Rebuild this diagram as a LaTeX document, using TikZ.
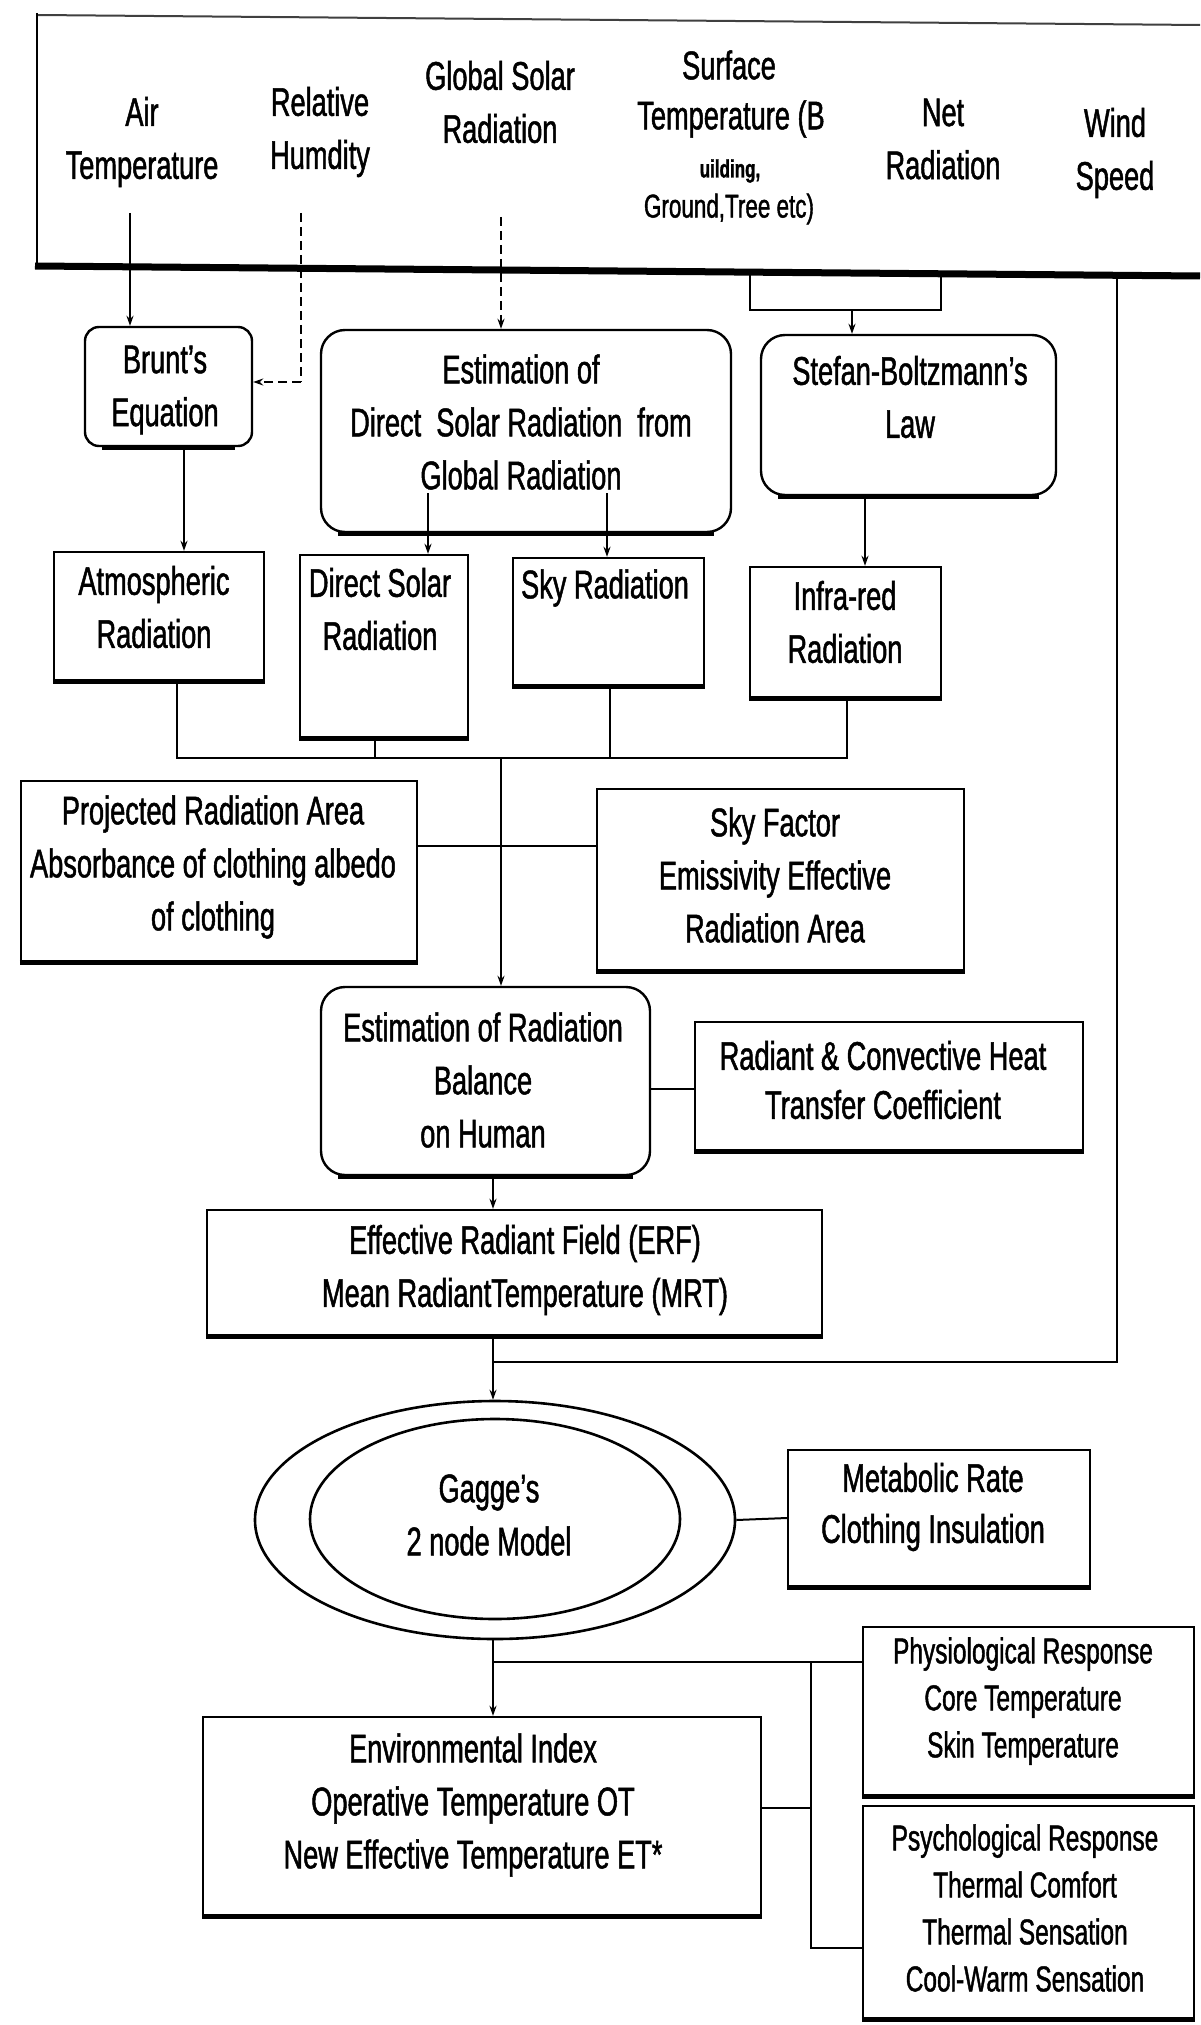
\documentclass[tikz,border=0pt]{standalone}
\usepackage{fontspec}
\setmainfont{Liberation Sans}[FakeStretch=0.68,FakeBold=1.2]
\usetikzlibrary{arrows.meta,shapes.geometric,calc}
\begin{document}
\begin{tikzpicture}[x=1pt,y=-1pt,
  txt/.style={align=center, inner sep=0pt, font=\fontsize{40}{53}\selectfont},
  stxt/.style={align=center, inner sep=0pt, font=\fontsize{36}{47}\selectfont},
  box/.style={draw, line width=2.4pt, inner sep=0pt},
  rbox/.style={box, rounded corners=24pt},
  ell/.style={draw, ellipse, line width=2.6pt, inner sep=0pt},
  conn/.style={line width=2pt},
  arr/.style={conn, -{Stealth[length=10pt,width=7pt]}},
  dsh/.style={dash pattern=on 9pt off 5pt}]
\useasboundingbox (0,0) rectangle (1200,2025);
\fill[white] (0,0) rectangle (1200,2025);

% top frame
\draw[line width=2pt, black!75] (37,15) -- (1200,25);
\draw[line width=2pt] (37,13) -- (37,267);
\draw[line width=7pt] (35,266) -- (1200,276);

% top labels
\node[txt] (airT) at (142,142) {Air\\Temperature};
\node[txt] (relH) at (320,132) {Relative\\Humdity};
\node[txt] (gsr) at (500,102) {Global Solar\\Radiation};
\node[txt] (surf1) at (729,65) {Surface};
\node[txt] (surf2) at (731,119) {Temperature (B};
\node[inner sep=0pt, font=\fontsize{25}{30}\selectfont\bfseries] (surf3) at (730,171) {uilding,};
\node[inner sep=0pt, font=\fontsize{33}{40}\selectfont] (surf4) at (729,209) {Ground,Tree etc)};
\node[txt] (netR) at (943,139) {Net\\Radiation};
\node[txt] (wind) at (1115,153) {Wind\\Speed};

% boxes
\node[rbox, rounded corners=14pt, minimum width=167pt, minimum height=119pt] (brunt) at (168.5,386.5) {};
\node[txt] (bruntT) at (165,390) {Brunt's\\Equation};
\node[rbox, minimum width=410pt, minimum height=202pt] (estd) at (526,431) {};
\node[txt] (estdT) at (521,422) {Estimation of\\Direct\ \ Solar Radiation\ \ from\\Global Radiation};
\node[rbox, minimum width=295pt, minimum height=160pt] (stefan) at (908.5,415) {};
\node[txt] (stefanT) at (910,397) {Stefan-Boltzmann's\\Law};

\node[box, minimum width=210pt, minimum height=128pt] (atmo) at (159,616) {};
\node[txt] (atmoT) at (154,607) {Atmospheric\\Radiation};
\node[box, minimum width=168pt, minimum height=182pt] (dsr) at (384,646) {};
\node[txt] (dsrT) at (380,609) {Direct Solar\\Radiation};
\node[box, minimum width=191pt, minimum height=127pt] (sky) at (608.5,621.5) {};
\node[txt] (skyT) at (605,588) {Sky Radiation};
\node[box, minimum width=191pt, minimum height=130pt] (infra) at (845.5,632) {};
\node[txt] (infraT) at (845,622) {Infra-red\\Radiation};

\node[box, minimum width=396pt, minimum height=180pt] (proj) at (219,871) {};
\node[txt] (projT) at (213,867) {Projected Radiation Area\\Absorbance of clothing albedo\\of clothing};
\node[box, minimum width=367pt, minimum height=181pt] (skyf) at (780.5,879.5) {};
\node[txt] (skyfT) at (775,875) {Sky Factor\\Emissivity Effective\\Radiation Area};

\node[rbox, minimum width=329pt, minimum height=188pt] (bal) at (485.5,1081) {};
\node[txt] (balT) at (483,1080) {Estimation of Radiation\\Balance\\on Human};
\node[box, minimum width=388pt, minimum height=128pt] (rad) at (889,1086) {};
\node[txt, font=\fontsize{40}{49}\selectfont] (radT) at (883,1080) {Radiant \& Convective Heat\\Transfer Coefficient};

\node[box, minimum width=615pt, minimum height=125pt] (erf) at (514.5,1272.5) {};
\node[txt] (erfT) at (525,1270) {Effective Radiant Field (ERF)\\Mean RadiantTemperature (MRT)};

\node[ell, minimum width=480pt, minimum height=238pt] (gout) at (495,1520) {};
\node[ell, minimum width=370pt, minimum height=200pt] (gin) at (495,1519) {};
\node[txt] (gagT) at (489,1515) {Gagge's\\2 node Model};
\node[box, minimum width=302pt, minimum height=136pt] (met) at (939,1518) {};
\node[txt, font=\fontsize{40}{51}\selectfont] (metT) at (933,1507) {Metabolic Rate\\Clothing Insulation};

\node[box, minimum width=558pt, minimum height=198pt] (env) at (482,1816) {};
\node[txt] (envT) at (473,1805) {Environmental Index\\Operative Temperature OT\\New Effective Temperature ET*};
\node[box, minimum width=331pt, minimum height=168pt] (phys) at (1028.5,1711) {};
\node[stxt] (physT) at (1023,1701) {Physiological Response\\Core Temperature\\Skin Temperature};
\node[box, minimum width=331pt, minimum height=212pt] (psy) at (1028.5,1912) {};
\node[stxt] (psyT) at (1025,1908) {Psychological Response\\Thermal Comfort\\Thermal Sensation\\Cool-Warm Sensation};

% heavier bottom edges
\foreach \n in {atmo,dsr,sky,infra,proj,skyf,rad,erf,met,env,phys,psy}
  \draw[line width=5pt] (\n.south west) -- (\n.south east);
\foreach \n in {brunt,estd,stefan,bal}
  \draw[line width=5pt] ($(\n.south west)+(18,0)$) -- ($(\n.south east)+(-18,0)$);

% coordinates
\coordinate (airS) at (130,213);
\coordinate (rhS) at (301,213);
\coordinate (rhC) at (301,382);
\coordinate (gsS) at (501,217);
\coordinate (stL) at (750,271);
\coordinate (stR) at (941,273);
\coordinate (stM) at (852,310);
\coordinate (wsS) at (1117,275);
\coordinate (wsC) at (1117,1362);
\coordinate (bA) at (184,0);
\coordinate (eL) at (428,493);
\coordinate (eR) at (607,493);
\coordinate (sI) at (865,0);
\coordinate (busL) at (177,758);
\coordinate (busR) at (847,758);
\coordinate (busD) at (375,758);
\coordinate (busS) at (610,758);
\coordinate (busM) at (501,758);
\coordinate (pjy) at (0,846);
\coordinate (rdy) at (0,1089);
\coordinate (mx) at (493,0);
\coordinate (hy) at (0,1662);
\coordinate (vx) at (811,0);
\coordinate (py) at (0,1948);
\coordinate (ey) at (0,1808);

% connectors
\draw[arr] (airS) -- (airS |- brunt.north);
\draw[conn,dsh] (rhS) -- (rhC);
\draw[arr,dsh] (rhC) -- (rhC -| brunt.east);
\draw[arr,dsh] (gsS) -- (gsS |- estd.north);
\draw[conn] (stL) -- (stL |- stM) -- (stR |- stM) -- (stR);
\draw[arr] (stM) -- (stM |- stefan.north);

\draw[arr] (bA |- brunt.south) -- (bA |- atmo.north);
\draw[arr] (eL) -- (eL |- dsr.north);
\draw[arr] (eR) -- (eR |- sky.north);
\draw[arr] (sI |- stefan.south) -- (sI |- infra.north);

\draw[conn] (busL |- atmo.south) -- (busL) -- (busR) -- (busR |- infra.south);
\draw[conn] (busD |- dsr.south) -- (busD);
\draw[conn] (busS |- sky.south) -- (busS);
\draw[arr] (busM) -- (busM |- bal.north);
\draw[conn] (proj.east |- pjy) -- (skyf.west |- pjy);
\draw[conn] (bal.east |- rdy) -- (rad.west |- rdy);

\draw[arr] (mx |- bal.south) -- (mx |- erf.north);
\draw[arr] (mx |- erf.south) -- (mx |- gout.north);
\draw[conn] (wsS) -- (wsC) -- (wsC -| mx);
\draw[conn] (gout.east) -- (met.west);
\draw[arr] (mx |- gout.south) -- (mx |- env.north);
\draw[conn] (mx |- hy) -- (phys.west |- hy);
\draw[conn] (vx |- hy) -- (vx |- py) -- (psy.west |- py);
\draw[conn] (env.east |- ey) -- (vx |- ey);
\end{tikzpicture}
\end{document}
